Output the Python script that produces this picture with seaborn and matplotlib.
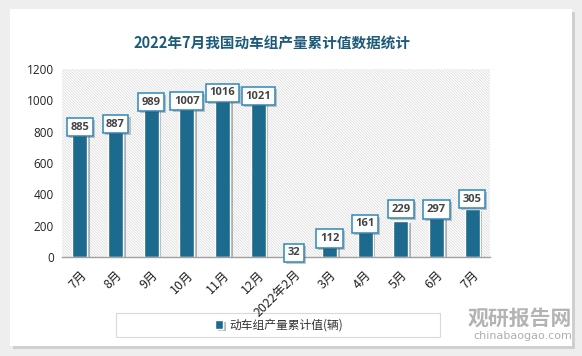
import matplotlib
import matplotlib.pyplot as plt
import matplotlib.patheffects as pe
import numpy as np
import pandas as pd
import seaborn as sns
from matplotlib.patches import Rectangle

matplotlib.use("Agg")

# data
months = ["7月", "8月", "9月", "10月", "11月", "12月", "2022年2月", "3月", "4月", "5月", "6月", "7月"]
values = [885, 887, 989, 1007, 1016, 1021, 32, 112, 161, 229, 297, 305]
# label nudges (px, + = down) to follow the original placement
label_shift = [9, 6, 0, 2, -5, -1, 1, -1, -8, -12, -1, -10]
y_ticks = [0, 200, 400, 600, 800, 1000, 1200]

TITLE = "2022年7月我国动车组产量累计值数据统计"
SERIES = "动车组产量累计值(辆)"
BAR = "#1c6a8e"
EDGE = "#2f88bb"

sns.set_theme(style="white")
plt.rcParams["font.family"] = ["Noto Sans CJK SC", "DejaVu Sans"]
plt.rcParams["hatch.color"] = "#d8d8d8"
plt.rcParams["hatch.linewidth"] = 0.5

df = pd.DataFrame({"pos": np.arange(len(months)), "val": values})

W, H = 582, 356
fig = plt.figure(figsize=(W / 100, H / 100), dpi=100)
fig.patch.set_facecolor("#eeeeee")
card = Rectangle((10 / W, 1 - 346 / H), 562 / W, 337 / H, transform=fig.transFigure,
                 facecolor="white", edgecolor="none", zorder=-3)
card.set_path_effects([pe.SimplePatchShadow(offset=(2, -2), shadow_rgbFace="#bbbbbb", alpha=0.6), pe.Normal()])
fig.patches.append(card)

ax = fig.add_axes([62 / W, 1 - 257 / H, 428 / W, 188 / H])
ax.patch.set_alpha(0)
bg = Rectangle((0, 0), 1, 1, transform=ax.transAxes, facecolor="white", edgecolor="#d8d8d8",
               hatch="\\" * 12, linewidth=0, zorder=0)
ax.add_patch(bg)

sns.barplot(data=df, x="pos", y="val", color=BAR, width=0.42, saturation=1,
            label=SERIES, ax=ax, zorder=2)
if ax.get_legend() is not None:
    ax.get_legend().remove()
for p in ax.patches:
    if p is bg:
        continue
    p.set_path_effects([pe.SimplePatchShadow(offset=(2, -1.5), alpha=0.3), pe.Normal()])

for i, v in enumerate(values):
    t = ax.annotate(str(v), (i, v), xytext=(0, -label_shift[i] * 0.72), textcoords="offset points",
                    ha="center", va="center", fontsize=8, color="#444444", fontweight="bold",
                    family=["Open Sans", "DejaVu Sans"], zorder=5,
                    bbox=dict(boxstyle="square,pad=0.32", facecolor="white", edgecolor=EDGE, linewidth=1.1))
    t.get_bbox_patch().set_path_effects([pe.SimplePatchShadow(offset=(1.5, -1.5), alpha=0.3), pe.Normal()])

ax.set_xlim(-0.5, len(months) - 0.5)
ax.set_ylim(0, 1200)
ax.set_yticks(y_ticks)
ax.set_yticklabels([str(t) for t in y_ticks], fontsize=8.5, color="#222222", family=["Open Sans", "DejaVu Sans"])
ax.set_xticks(range(len(months)))
ax.set_xticklabels(months, rotation=45, ha="right", rotation_mode="anchor", fontsize=9, color="#222222")
ax.tick_params(axis="both", length=0, pad=6)
ax.tick_params(axis="x", pad=8)
ax.set_xlabel("")
ax.set_ylabel("")
for s in ["top", "right", "left"]:
    ax.spines[s].set_visible(False)
ax.spines["bottom"].set_color("#a0a0a0")
ax.spines["bottom"].set_linewidth(1)
ax.spines["bottom"].set_zorder(3)

fig.text(0.468, 1 - 43 / H, TITLE, ha="center", va="center", fontsize=10.5, fontweight="bold", color="#1d5b7a")

# legend box
lb = Rectangle((116 / W, 1 - 337 / H), 324 / W, 24 / H, transform=fig.transFigure,
               facecolor="white", edgecolor="#d9d9d9", linewidth=0.8, zorder=-2)
fig.patches.append(lb)
handles, labels = ax.get_legend_handles_labels()
leg = fig.legend(handles[:1], labels[:1], loc="center", bbox_to_anchor=(279 / W, 1 - 325 / H), frameon=False,
                 fontsize=8.5, handlelength=0.7, handleheight=0.7, handletextpad=0.5)
for tx in leg.get_texts():
    tx.set_color("#333333")

# watermark
fig.text(572 / W, 1 - 318 / H, "观研报告网", ha="right", va="center", fontsize=15, fontweight="bold",
         color="#9a9a9a", alpha=0.75)
fig.text(572 / W, 1 - 336 / H, "chinabaogao.com", ha="right", va="center", fontsize=8,
         color="#9a9a9a", alpha=0.8, family=["DejaVu Sans"])

fig.savefig("out.png", dpi=100)
